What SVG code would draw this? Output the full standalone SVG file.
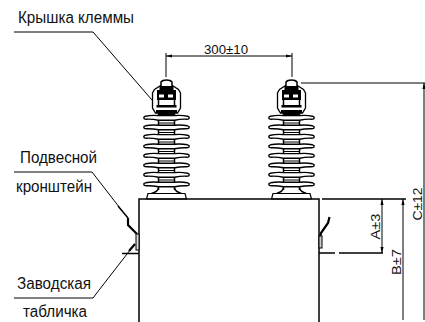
<svg xmlns="http://www.w3.org/2000/svg" width="425" height="322" viewBox="0 0 425 322">
<style>
text{font-family:"Liberation Sans",Arial,sans-serif;font-size:16px;fill:#111}
.d{font-size:13px}
.l{fill:none;stroke:#000;stroke-width:1}
.b{fill:none;stroke:#000;stroke-width:1.5}
.t{fill:none;stroke:#000;stroke-width:2.2}
.disc{fill:#fff;stroke:#000;stroke-width:1.4}
.k{fill:#000}
.w{fill:#fff}
</style>
<defs>
<marker id="a" viewBox="0 0 6 4" refX="6" refY="2" markerWidth="6" markerHeight="4" orient="auto-start-reverse" markerUnits="userSpaceOnUse"><path d="M0 0.4L6 2L0 3.6Z" fill="#000"/></marker>
<path id="dsc" class="disc" d="M-8 -2.400Q-15 -3 -21 -1.800Q-23 -1.200 -22.600 0Q-22.600 1.200 -20 1.200Q-14 1 -8 2.200H8Q14 1 20 1.200Q22.600 1.200 22.600 0Q23 -1.200 21 -1.800Q15 -3 8 -2.400Z"/>
<g id="ins">
<path class="b" d="M-8 112V190M8 112V190"/>
<path d="M-8 123H8M-8 132.500H8M-8 142H8M-8 151.500H8M-8 161H8M-8 170.500H8M-8 180H8" stroke="#000" stroke-width="1.200"/>
<use href="#dsc" y="118"/><use href="#dsc" y="127.600"/><use href="#dsc" y="137"/><use href="#dsc" y="146.600"/><use href="#dsc" y="156"/><use href="#dsc" y="165.600"/><use href="#dsc" y="175"/><use href="#dsc" y="184.600"/>
<path class="b" d="M-8 188Q-9 192 -15 193.500M8 188Q9 192 15 193.500"/>
<path d="M-18.500 193.500H18.500L20 199H-20Z" fill="#fff" stroke="#000" stroke-width="1.200"/>
<path d="M-5 85L-12 89.500L-14 93V108L-11 113H11L14 108V93L12 89.500L5 85" fill="#fff" stroke="#000" stroke-width="1.300"/>
<path d="M-5.500 87V82Q-4 80 0 80Q4 80 5.500 82V87Z" fill="#fff" stroke="#000" stroke-width="1.500"/>
<rect class="k" x="-7" y="86" width="14" height="4"/>
<rect class="k" x="-9.500" y="90" width="19" height="10"/>
<rect class="w" x="-7.500" y="94.500" width="5" height="3"/><rect class="w" x="1.500" y="94.500" width="5" height="3"/>
<rect class="w" x="-3.500" y="83" width="7" height="2.500"/>
<path class="b" d="M-8 100V105M8 100V105"/>
<rect class="k" x="-10" y="105" width="20" height="2.500"/>
<rect class="k" x="-10.500" y="110" width="21" height="3"/>
<path d="M-8 113V116H8V113" fill="#000"/>
</g>
</defs>

<g id="insulator-left"><use href="#ins" x="166.500"/></g>
<g id="insulator-right"><use href="#ins" x="291.500"/></g>

<g id="tank">
<path class="b" d="M139 322V199H319V322"/>
</g>

<g id="bracket-left">
<path class="t" d="M128 218V225L137 234"/>
<rect x="136" y="234" width="3" height="16" fill="#ddd" stroke="#000"/>
<path class="b" d="M122 253.500H139"/>
</g>
<g id="bracket-right">
<path class="t" d="M329.500 217L328 223L321 233L320 237"/>
<rect x="319" y="236" width="3" height="12" fill="#ccc" stroke="#000"/>
<path class="b" d="M319 253H335M339 253H383"/>
</g>

<g id="connectors">
<path class="l" d="M14 32H93L152 100"/>
<path class="l" d="M14 172H92L123 212"/>
<path class="b" d="M118 206L123 212L128 218"/>
<path class="l" d="M14 298H93L96 294L134 245"/>
<path class="t" d="M129 251L135 244"/>
<path class="l" d="M166 77V53M292 77V53"/>
<path class="l" d="M166 56H292" marker-start="url(#a)" marker-end="url(#a)"/>
<path class="l" d="M301 83H425"/>
<path class="b" d="M322 199H406"/>
<path class="l" d="M382 199V253" marker-start="url(#a)" marker-end="url(#a)"/>
<path class="l" d="M403 199V320" marker-start="url(#a)"/>
<path class="l" d="M424 83V320" marker-start="url(#a)"/>
</g>

<g id="labels">
<text x="18" y="23" textLength="116" lengthAdjust="spacingAndGlyphs">Крышка клеммы</text>
<text x="20" y="163" textLength="77" lengthAdjust="spacingAndGlyphs">Подвесной</text>
<text x="16" y="192" textLength="76" lengthAdjust="spacingAndGlyphs">кронштейн</text>
<text x="17" y="289" textLength="74" lengthAdjust="spacingAndGlyphs">Заводская</text>
<text x="23" y="317" textLength="64" lengthAdjust="spacingAndGlyphs">табличка</text>
<text class="d" x="204" y="54" textLength="44" lengthAdjust="spacingAndGlyphs">300±10</text>
<text class="d" transform="translate(380 239.500) rotate(-90)" textLength="26" lengthAdjust="spacingAndGlyphs">A±3</text>
<text class="d" transform="translate(401 275) rotate(-90)" textLength="26" lengthAdjust="spacingAndGlyphs">B±7</text>
<text class="d" transform="translate(422 220.500) rotate(-90)" textLength="33" lengthAdjust="spacingAndGlyphs">C±12</text>
</g>
</svg>
